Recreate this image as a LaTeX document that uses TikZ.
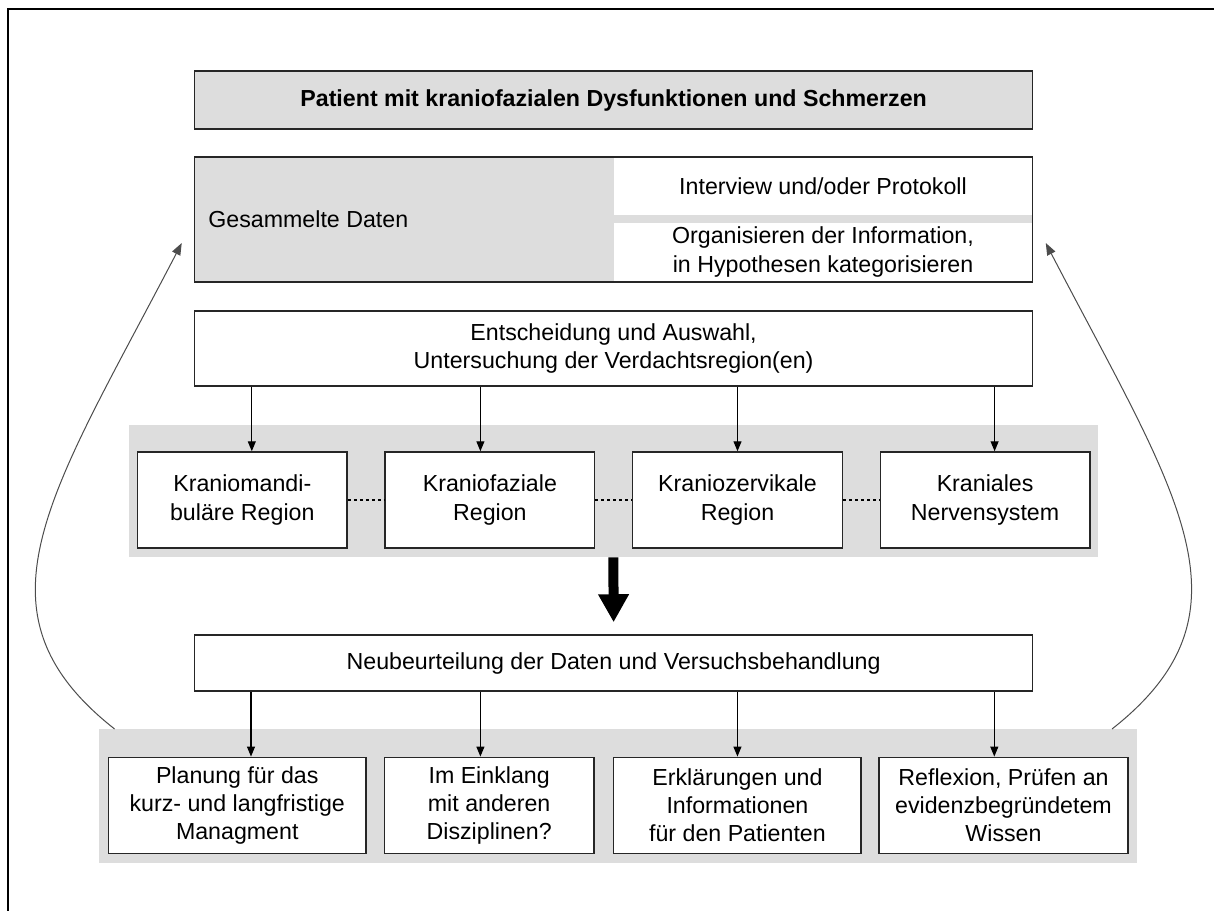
\documentclass[tikz,border=0pt]{standalone}
\usepackage{fontspec}
\setmainfont{Liberation Sans}
\usetikzlibrary{calc,arrows.meta}
\definecolor{boxgray}{gray}{0.867}
\definecolor{linegray}{gray}{0.3}
\tikzset{
	box/.style={draw=black!85, line width=0.3mm, fill=white, align=center, inner sep=0pt},
	graybox/.style={box, fill=boxgray},
	band/.style={fill=boxgray, inner sep=0pt},
	arr/.style={line width=0.22mm, -{Triangle[length=2mm,width=1.6mm]}},
	feedback/.style={draw=linegray, line width=0.2mm, -{Triangle[length=2.4mm,width=1.8mm]}},
	bigarrow/.style={line width=2mm, -{Triangle[length=5.6mm,width=5.8mm]}},
	dotline/.style={line width=0.55mm, dash pattern=on 0.6mm off 0.6mm}
}

\begin{document}
\begin{tikzpicture}[x=0.2mm, y=-0.2mm, font=\fontsize{13.2}{16}\selectfont]
\useasboundingbox (0,0) rectangle (1214,910);

%frame
\draw[line width=0.4mm] (8,930) -- (8,9) -- (1230,9);

%patient
\node[graybox, minimum width=167.64mm, minimum height=11.6mm,
	font=\fontsize{13.2}{16}\selectfont\bfseries] (patient) at (613.6,100)
	{Patient mit kraniofazialen Dysfunktionen und Schmerzen};

% gesammelte daten
\node[graybox, minimum width=167.64mm, minimum height=25mm] (daten) at (613.6,219.5) {};
\node[anchor=west, inner sep=0pt] (datentext) at ($(daten.west)+(14.3,0)$) {Gesammelte Daten};
\node[fill=white, inner sep=0pt, minimum width=83.6mm, minimum height=11.5mm] (interview)
	at (823,186.25) {Interview und/oder Protokoll};
\node[fill=white, inner sep=0pt, align=center, minimum width=83.6mm, minimum height=11.6mm] (ordnen)
	at (823,252) {Organisieren der Information,\\in Hypothesen kategorisieren};

% entscheidung
\node[box, minimum width=167.64mm, minimum height=15mm] (auswahl) at (613.6,348.5)
	{Entscheidung und Auswahl,\\Untersuchung der Verdachtsregion(en)};

% regionen
\node[band, minimum width=193.92mm, minimum height=26.4mm] (regband) at (613.4,491) {};
\foreach \i/\txt in {1/{Kraniomandi-\\buläre Region},2/{Kraniofaziale\\Region},
	3/{Kraniozervikale\\Region},4/{Kraniales\\Nervensystem}}
{
	\node[box, minimum width=41.92mm, minimum height=19.2mm] (r\i)
		at ({242.3+(\i-1)*247.6},500) {\txt};
}
\foreach \i [evaluate=\i as \j using int(\i+1)] in {1,2,3}
	\draw[dotline] (r\i.east) -- (r\j.west);
\foreach \i/\s in {1/9.5,2/-9.5,3/0,4/9.5}
	\draw[arr] ($(r\i.north |- auswahl.south)+(\s,0)$) -- ($(r\i.north)+(\s,0)$);

% neubeurteilung
\node[box, minimum width=167.64mm, minimum height=11.2mm] (neu) at (613.6,663)
	{Neubeurteilung der Daten und Versuchsbehandlung};
\draw[bigarrow] (regband.south) -- ($(neu.north)+(0,-12)$);

% massnahmen
\node[band, minimum width=207.66mm, minimum height=26.68mm] (planband) at (618.05,796) {};
\foreach \i/\x/\w/\txt in {1/237.25/51.42/{Planung für das\\kurz- und langfristige\\Managment},
	2/489.15/41.94/{Im Einklang\\mit anderen\\Disziplinen?},
	3/737.45/49.5/{Erklärungen und\\Informationen\\für den Patienten},
	4/1003.5/49.72/{Reflexion, Prüfen an\\evidenzbegründetem\\Wissen}}
{
	\node[box, minimum width=\w mm, minimum height=19.2mm] (p\i) at (\x,805.3) {\txt};
}
\foreach \i/\s in {1/13.75,2/-8.75,3/0,4/-9.2}
	\draw[arr] ($(p\i.north |- neu.south)+(\s,0)$) -- ($(p\i.north)+(\s,0)$);

% rueckkopplung
\draw[feedback] ($(planband.north west)+(16,0)$) .. controls +(-150,-118) and +(-130,250) ..
	($(daten.west)+(-12,23.5)$);
\draw[feedback] ($(planband.north east)+(-25.5,0)$) .. controls +(150,-118) and +(130,250) ..
	($(daten.east)+(12.3,23.5)$);

\end{tikzpicture}
\end{document}
